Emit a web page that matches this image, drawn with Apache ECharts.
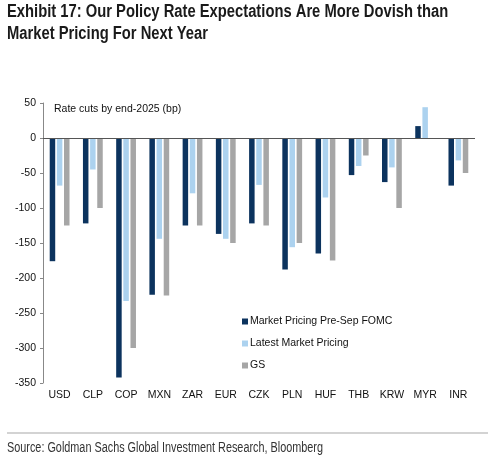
<!DOCTYPE html>
<html><head><meta charset="utf-8">
<script src="https://cdn.jsdelivr.net/npm/echarts@6/dist/echarts.min.js"></script>
<style>
html,body{margin:0;padding:0;background:#fff;}
#wrap{position:relative;width:500px;height:460px;}
#chart{position:absolute;left:0;top:0;width:500px;height:460px;}
</style></head>
<body><div id="wrap"><div id="chart"></div></div>
<script>
const categories = ['USD','CLP','COP','MXN','ZAR','EUR','CZK','PLN','HUF','THB','KRW','MYR','INR'];
const preSepFOMC = [-176,-122,-342,-224,-125,-137,-122,-188,-165,-53,-63,17,-68];
const latestPricing = [-68,-45,-233,-144,-79,-144,-67,-156,-85,-40,-42,44,-32];
const gsForecast = [-125,-100,-300,-225,-125,-150,-125,-150,-175,-25,-100,0,-50];
const seriesNames = ['Market Pricing Pre-Sep FOMC','Latest Market Pricing','GS'];
const yTicks = {min:-350, max:50, interval:50};

const chart = echarts.init(document.getElementById('chart'), null, {renderer:'canvas'});
const font = 'Liberation Sans, Arial, sans-serif';
const colors = ['#0c335e','#acd2ef','#a6a6a6'];
function bar(name, data, color, extra){
  return Object.assign({
    name, type:'bar', data, barWidth:5.5, barGap:'30%',
    itemStyle:{color}, emphasis:{disabled:true}, animation:false
  }, extra||{});
}
function condensed(text, x, y, size, weight, color, sx){
  return {type:'text', x, y, scaleX:sx, scaleY:1, silent:true,
    style:{text, fontFamily:font, fontSize:size, fontWeight:weight, fill:color}};
}
chart.setOption({
  animation:false,
  color: colors,
  title:[{
    text:'Rate cuts by end-2025 (bp)',
    left:49, top:99,
    textStyle:{fontFamily:font, fontWeight:'normal', fontSize:10.5, color:'#111'}
  }],
  graphic:[
    condensed('Exhibit 17: Our Policy Rate Expectations Are More Dovish than', 7, 3, 18, 'bold', '#1a1a1a', 0.82),
    condensed('Market Pricing For Next Year', 7, 25, 18, 'bold', '#1a1a1a', 0.82),
    {type:'line', shape:{x1:7,y1:433,x2:488,y2:433}, style:{stroke:'#c4c4c4', lineWidth:1.5}, silent:true},
    condensed('Source: Goldman Sachs Global Investment Research, Bloomberg', 7, 441, 14, 'normal', '#333', 0.775)
  ],
  legend:{
    data:seriesNames, orient:'vertical', left:237, top:311,
    itemWidth:6, itemHeight:6, itemGap:11, icon:'rect',
    textStyle:{fontFamily:font, fontSize:10.5, color:'#111', padding:[0,0,0,-3]}
  },
  grid:{left:43, right:25, top:103, bottom:77, containLabel:false},
  xAxis:{
    type:'category', data:categories, position:'bottom',
    axisLine:{show:false}, axisTick:{show:false},
    axisLabel:{fontFamily:font, fontSize:10.5, color:'#111', margin:7, interval:0}
  },
  yAxis:{
    type:'value', min:yTicks.min, max:yTicks.max, interval:yTicks.interval,
    axisLine:{show:true, lineStyle:{color:'#888'}},
    axisTick:{show:true, length:3, lineStyle:{color:'#888'}},
    splitLine:{show:false},
    axisLabel:{fontFamily:font, fontSize:10.5, color:'#111', margin:7}
  },
  series:[
    bar(seriesNames[0], preSepFOMC, colors[0], {
      markLine:{silent:true, symbol:'none', label:{show:false},
        lineStyle:{color:'#555', type:'solid', width:1.2},
        data:[{yAxis:0}], animation:false}
    }),
    bar(seriesNames[1], latestPricing, colors[1]),
    bar(seriesNames[2], gsForecast, colors[2])
  ]
});
</script></body></html>
